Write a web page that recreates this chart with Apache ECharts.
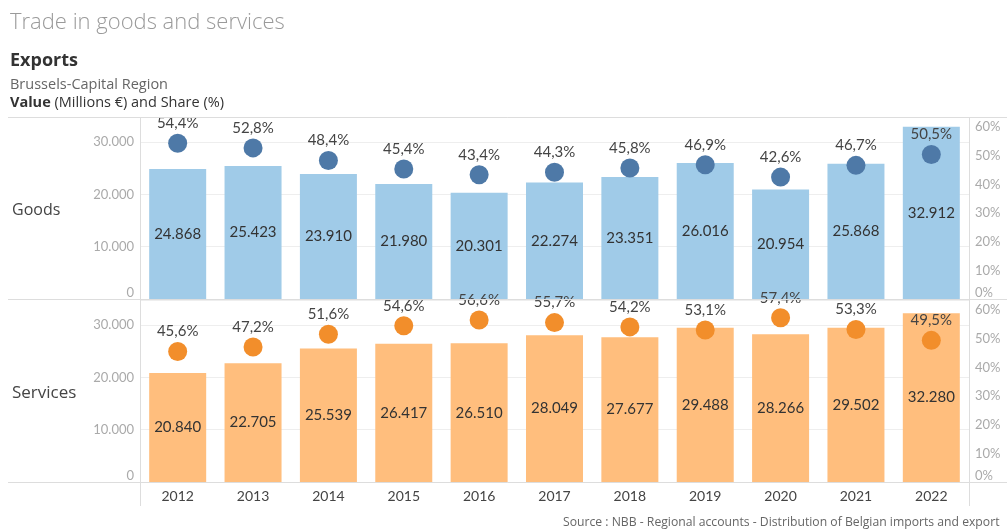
<!DOCTYPE html>
<html>
<head>
<meta charset="utf-8">
<script src="https://cdn.jsdelivr.net/npm/echarts@6/dist/echarts.min.js"></script>
<style>
  html, body { margin: 0; padding: 0; background: #fff; }
  #chart { width: 1007px; height: 529px; }
</style>
</head>
<body>
<div id="chart"></div>
<script>
// 数据
const years = ['2012', '2013', '2014', '2015', '2016', '2017', '2018', '2019', '2020', '2021', '2022'];
const goodsValue = [24868, 25423, 23910, 21980, 20301, 22274, 23351, 26016, 20954, 25868, 32912];
const goodsShare = [54.4, 52.8, 48.4, 45.4, 43.4, 44.3, 45.8, 46.9, 42.6, 46.7, 50.5];
const servicesValue = [20840, 22705, 25539, 26417, 26510, 28049, 27677, 29488, 28266, 29502, 32280];
const servicesShare = [45.6, 47.2, 51.6, 54.6, 56.6, 55.7, 54.2, 53.1, 57.4, 53.3, 49.5];

const FONT = 'Lato, "Open Sans", sans-serif';
const HEAD_FONT = '"Open Sans", Lato, sans-serif';
const fmtNum = v => String(v).replace(/\B(?=(\d{3})+(?!\d))/g, '.');
const fmtPct = v => v.toFixed(1).replace('.', ',') + '%';

const chart = echarts.init(document.getElementById('chart'));

function valueAxis(gridIndex) {
  return {
    type: 'value', gridIndex: gridIndex, position: 'left',
    min: 0, max: 34800, interval: 10000,
    axisLine: { show: false }, axisTick: { show: false },
    axisLabel: {
      color: '#aaa', fontSize: 13, fontFamily: FONT, margin: 6,
      showMaxLabel: false, verticalAlignMinLabel: 'bottom',
      formatter: v => fmtNum(v)
    },
    splitLine: { lineStyle: { color: '#eeeeee', width: 1 } }
  };
}
function shareAxis(gridIndex) {
  return {
    type: 'value', gridIndex: gridIndex, position: 'right',
    min: 0, max: 63.6, interval: 10,
    axisLine: { show: false }, axisTick: { show: false },
    axisLabel: {
      color: '#aaa', fontSize: 13, fontFamily: FONT, margin: 6,
      showMaxLabel: false, verticalAlignMinLabel: 'bottom',
      formatter: v => v + '%'
    },
    splitLine: { show: false }
  };
}
function barSeries(name, idx, data, color) {
  return {
    name: name, type: 'bar', xAxisIndex: idx, yAxisIndex: idx * 2,
    data: data, barWidth: 57,
    itemStyle: { color: color },
    label: {
      show: true, position: 'inside', color: '#333', fontSize: 15, fontFamily: FONT,
      formatter: p => fmtNum(p.value)
    },
    z: 2
  };
}
function dotSeries(name, idx, data, color) {
  return {
    name: name, type: 'scatter', xAxisIndex: idx, yAxisIndex: idx * 2 + 1,
    data: data, symbolSize: 19,
    itemStyle: { color: color, opacity: 1 },
    label: {
      show: true, position: 'top', distance: 3, color: '#444', fontSize: 15, fontFamily: FONT,
      formatter: p => fmtPct(p.value)
    },
    z: 3
  };
}

const lineStyle = { stroke: '#dddddd', lineWidth: 1 };
const t = (text, left, top, style) => ({ text: text, left: left, top: top, padding: 0, textStyle: Object.assign({ fontFamily: HEAD_FONT, fontWeight: 'normal' }, style) });

const option = {
  backgroundColor: '#fff',
  animation: false,
  title: [
    t('Trade in goods and services', 10, 12, { color: '#9a9a9a', fontSize: 22, fontWeight: 300 }),
    t('Exports', 10, 52, { color: '#333', fontSize: 18, fontWeight: 'bold' }),
    t('Brussels-Capital Region', 10, 77, { color: '#666', fontSize: 14.5 }),
    t('{b|Value} (Millions €) and Share (%)', 10, 95, { color: '#333', fontSize: 14.5 }),
    t('Goods', 12, 202, { color: '#444', fontSize: 16 }),
    t('Services', 12, 385, { color: '#444', fontSize: 17 }),
    t('Source : NBB - Regional accounts - Distribution of Belgian imports and export', 563, 517, { color: '#666', fontSize: 12.2 })
  ],
  grid: [
    { left: 140, right: 38, top: 117, height: 182 },
    { left: 140, right: 38, top: 300, height: 182 }
  ],
  xAxis: [
    { type: 'category', gridIndex: 0, data: years,
      axisLine: { show: false }, axisTick: { show: false }, axisLabel: { show: false } },
    { type: 'category', gridIndex: 1, data: years,
      axisLine: { show: false }, axisTick: { show: false },
      axisLabel: { color: '#444', fontSize: 14, fontFamily: FONT, margin: 7 } }
  ],
  yAxis: [valueAxis(0), shareAxis(0), valueAxis(1), shareAxis(1)],
  series: [
    barSeries('Goods', 0, goodsValue, '#a0cbe8'),
    dotSeries('Goods share', 0, goodsShare, '#4e79a7'),
    barSeries('Services', 1, servicesValue, '#ffbe7d'),
    dotSeries('Services share', 1, servicesShare, '#f28e2b')
  ],
  graphic: [
    { type: 'line', shape: { x1: 8, y1: 117.5, x2: 1007, y2: 117.5 }, style: lineStyle, z: 10 },
    { type: 'line', shape: { x1: 8, y1: 299.5, x2: 1007, y2: 299.5 }, style: lineStyle, z: 10 },
    { type: 'line', shape: { x1: 8, y1: 482.5, x2: 1007, y2: 482.5 }, style: lineStyle, z: 10 },
    { type: 'line', shape: { x1: 140.5, y1: 117, x2: 140.5, y2: 506 }, style: lineStyle, z: 10 },
    { type: 'line', shape: { x1: 969.5, y1: 117, x2: 969.5, y2: 506 }, style: lineStyle, z: 10 }
  ]
};
option.title[3].textStyle.rich = { b: { fontWeight: 'bold', fontSize: 14.5, color: '#333', fontFamily: HEAD_FONT } };

chart.setOption(option);
window.addEventListener('resize', () => chart.resize());
</script>
</body>
</html>
